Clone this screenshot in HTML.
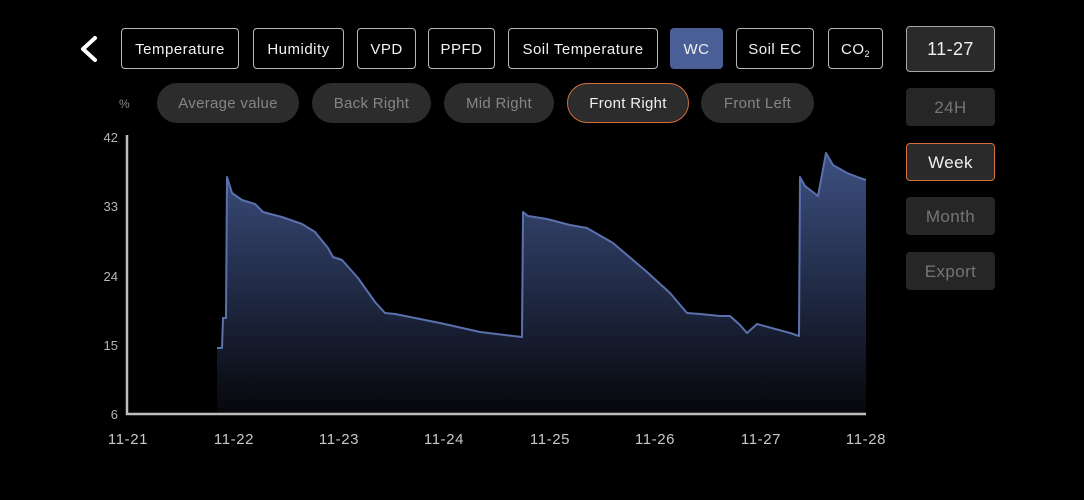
<!DOCTYPE html>
<html><head><meta charset="utf-8"><style>
html,body{margin:0;padding:0;background:#000;}
body{width:1084px;height:500px;position:relative;overflow:hidden;font-family:"Liberation Sans",sans-serif;}
.b{position:absolute;box-sizing:border-box;border:1px solid #b8b8b8;border-radius:4px;color:#f2f2f2;font-size:15px;letter-spacing:0.5px;display:flex;align-items:center;justify-content:center;top:28px;height:41px;padding-top:2px;}
.p{position:absolute;box-sizing:border-box;border-radius:20px;background:#2c2c2c;color:#858585;font-size:15px;letter-spacing:0.3px;display:flex;align-items:center;justify-content:center;top:83px;height:40px;padding-top:1px;}
.r{position:absolute;box-sizing:border-box;left:906px;width:89px;border-radius:4px;background:#262626;color:#757575;font-size:17px;letter-spacing:0.4px;display:flex;align-items:center;justify-content:center;height:38px;padding-top:1px;}
.yl{position:absolute;right:966px;color:#b5b5b5;font-size:13px;}
.xl{position:absolute;color:#c8c8c8;font-size:15px;letter-spacing:0.6px;top:431px;width:60px;text-align:center;}
</style></head><body>
<svg style="position:absolute;left:0;top:0" width="1084" height="500">
<polyline points="95,38 83,49 95,60" fill="none" stroke="#fff" stroke-width="4" stroke-linecap="round" stroke-linejoin="round"/>
</svg>
<div class="b" style="left:121px;width:118px">Temperature</div>
<div class="b" style="left:253px;width:91px">Humidity</div>
<div class="b" style="left:357px;width:59px">VPD</div>
<div class="b" style="left:428px;width:67px">PPFD</div>
<div class="b" style="left:508px;width:150px">Soil Temperature</div>
<div class="b" style="left:670px;width:53px;background:#4a5f96;border-color:#4a5f96;">WC</div>
<div class="b" style="left:736px;width:78px">Soil EC</div>
<div class="b" style="left:828px;width:55px">CO<span style="font-size:9px;position:relative;top:4px">2</span></div>
<div class="r" style="top:26px;height:46px;background:#2a2a2a;border:1px solid #a8a8a8;color:#f0f0f0;font-size:18px;">11-27</div>
<div class="r" style="top:88px">24H</div>
<div class="r" style="top:143px;background:#2a2a2a;border:1.5px solid #d2703a;color:#f0f0f0;">Week</div>
<div class="r" style="top:197px">Month</div>
<div class="r" style="top:252px">Export</div>
<div style="position:absolute;left:119px;top:97px;color:#8a8a8a;font-size:12px">%</div>
<div class="p" style="left:157px;width:142px">Average value</div>
<div class="p" style="left:312px;width:119px">Back Right</div>
<div class="p" style="left:444px;width:110px">Mid Right</div>
<div class="p" style="left:567px;width:122px;border:1px solid #d2703a;color:#f0f0f0;">Front Right</div>
<div class="p" style="left:701px;width:113px">Front Left</div>
<div class="yl" style="top:130px">42</div>
<div class="yl" style="top:199px">33</div>
<div class="yl" style="top:269px">24</div>
<div class="yl" style="top:338px">15</div>
<div class="yl" style="top:407px">6</div>
<div class="xl" style="left:98px">11-21</div>
<div class="xl" style="left:204px">11-22</div>
<div class="xl" style="left:309px">11-23</div>
<div class="xl" style="left:414px">11-24</div>
<div class="xl" style="left:520px">11-25</div>
<div class="xl" style="left:625px">11-26</div>
<div class="xl" style="left:731px">11-27</div>
<div class="xl" style="left:836px">11-28</div>
<svg style="position:absolute;left:0;top:0" width="1084" height="500">
<defs><linearGradient id="g" x1="0" y1="150" x2="0" y2="414" gradientUnits="userSpaceOnUse">
<stop offset="0" stop-color="#3e5182"/><stop offset="0.45" stop-color="#25304f"/><stop offset="1" stop-color="#06070b"/></linearGradient></defs>
<path d="M217,414 L217,348 L222,348 L223,318 L226,318 L227,177 L232,193 L242,200 L255,204 L263,212 L282,217 L302,224 L315,232 L328,248 L333,257 L342,260 L358,278 L375,302 L385,313 L395,314 L440,323 L480,332 L522,337 L523,212 L528,216 L547,219 L570,225 L587,228 L613,243 L647,272 L670,293 L687,313 L700,314 L720,316 L727,316 L730,316 L740,325 L747,333 L757,324 L790,333 L799,336 L800,177 L805,186 L818,196 L826,153 L833,165 L847,173 L860,178 L866,180 L866,414 Z" fill="url(#g)"/>
<polyline points="217,348 222,348 223,318 226,318 227,177 232,193 242,200 255,204 263,212 282,217 302,224 315,232 328,248 333,257 342,260 358,278 375,302 385,313 395,314 440,323 480,332 522,337 523,212 528,216 547,219 570,225 587,228 613,243 647,272 670,293 687,313 700,314 720,316 727,316 730,316 740,325 747,333 757,324 790,333 799,336 800,177 805,186 818,196 826,153 833,165 847,173 860,178 866,180" fill="none" stroke="#5a71ad" stroke-width="2" stroke-linejoin="round"/>
<polyline points="127,135 127,414 866,414" fill="none" stroke="#bdbdbd" stroke-width="2.5"/>
</svg>
</body></html>
